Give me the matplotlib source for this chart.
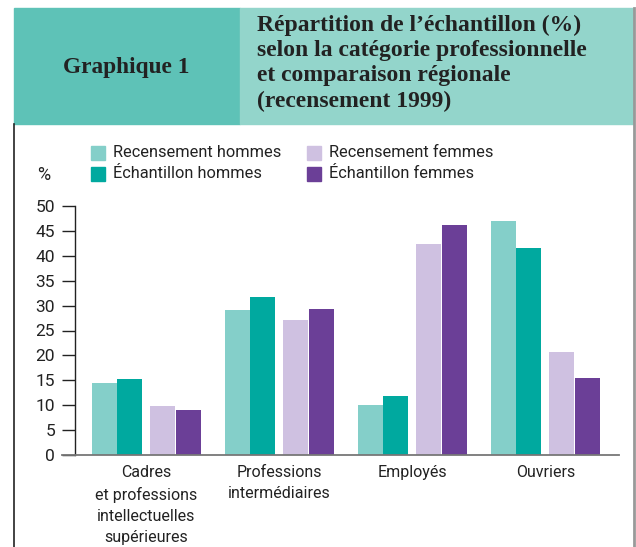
import matplotlib
matplotlib.use("Agg")
import matplotlib.pyplot as plt
import matplotlib.transforms as mtransforms
import numpy as np
from matplotlib.patches import Rectangle
from matplotlib.lines import Line2D

categories = ["Cadres\net professions\nintellectuelles\nsupérieures",
              "Professions\nintermédiaires", "Employés", "Ouvriers"]
series_names = ["Recensement hommes", "Échantillon hommes",
                "Recensement femmes", "Échantillon femmes"]
rec_hommes = [14.4, 29.1, 10.0, 47.0]
ech_hommes = [15.3, 31.7, 11.8, 41.6]
rec_femmes = [9.8, 27.1, 42.4, 20.7]
ech_femmes = [9.0, 29.3, 46.2, 15.5]
yticks = [0, 5, 10, 15, 20, 25, 30, 35, 40, 45, 50]

colors = ["#84cfc9", "#00a99f", "#cfc1e1", "#6b3f97"]
sans = ["Roboto", "DejaVu Sans"]
serif = ["Liberation Serif", "DejaVu Serif"]
txt = "#222222"

W, H = 636, 547
fig = plt.figure(figsize=(W / 100, H / 100), dpi=100)

def fx(px):
    return px / W

def fy(py):
    return 1 - py / H

# header
fig.patches.append(Rectangle((fx(14), fy(124)), fx(240 - 14), (124 - 8) / H,
                             transform=fig.transFigure, color="#5ec2b7", zorder=0))
fig.patches.append(Rectangle((fx(240), fy(124)), fx(633 - 240), (124 - 8) / H,
                             transform=fig.transFigure, color="#93d5cb", zorder=0))
fig.lines.append(Line2D([fx(14.5), fx(14.5)], [fy(124), 0], transform=fig.transFigure,
                        color="#222222", lw=1.2))
fig.lines.append(Line2D([fx(634), fx(634)], [fy(8), 0], transform=fig.transFigure,
                        color="#999999", lw=2))
fig.text(fx(126), fy(67), "Graphique 1", family=serif, fontweight="bold",
         fontsize=16.8, color=txt, ha="center", va="center")
title_lines = ["Répartition de l’échantillon (%)",
               "selon la catégorie professionnelle",
               "et comparaison régionale",
               "(recensement 1999)"]
for i, t in enumerate(title_lines):
    fig.text(fx(257), fy(25 + 25.5 * i), t, family=serif, fontweight="bold",
             fontsize=17, color=txt, ha="left", va="center")

# axes
ax = fig.add_axes([fx(75), fy(455), fx(619 - 75), (455 - 206) / H])
x = np.arange(len(categories))
offsets = [-0.316, -0.128, 0.120, 0.316]
width = 0.19
for vals, off, c in zip([rec_hommes, ech_hommes, rec_femmes, ech_femmes], offsets, colors):
    ax.bar(x + off, vals, width=width, color=c, zorder=2)

ax.set_xlim(-0.538, 3.553)
ax.set_ylim(0, 50)
ax.set_yticks(yticks)
ax.set_yticklabels([str(v) for v in yticks], family=sans, fontsize=12.5, color=txt)
ax.tick_params(axis="y", direction="out", length=9.4, width=1, color="#222222", pad=5)
ax.set_xticks([])
for s in ["top", "right", "bottom"]:
    ax.spines[s].set_visible(False)
ax.spines["left"].set_color("#222222")
ax.spines["left"].set_linewidth(1)
fig.lines.append(Line2D([fx(62), fx(619)], [fy(455), fy(455)], transform=fig.transFigure,
                        color="#777777", lw=1.3))
blend = mtransforms.blended_transform_factory(ax.transData, fig.transFigure)
for xi, cat in zip(x, categories):
    ax.text(xi, fy(465), cat, transform=blend, ha="center", va="top",
            family=sans, fontsize=11.5, color=txt, linespacing=1.5)

fig.text(fx(37), fy(175), "%", family=sans, fontsize=13, color=txt, ha="left", va="center")

# legend
leg_pos = [(91, 152.5), (91, 174), (307, 152.5), (307, 174)]
for (lx, ly), name, c in zip(leg_pos, series_names, colors):
    fig.patches.append(Rectangle((fx(lx), fy(ly + 7)), fx(14), 14 / H,
                                 transform=fig.transFigure, color=c))
    fig.text(fx(lx + 22), fy(ly), name, family=sans, fontsize=11.8, color=txt,
             ha="left", va="center")

fig.savefig("out.png", dpi=100)
